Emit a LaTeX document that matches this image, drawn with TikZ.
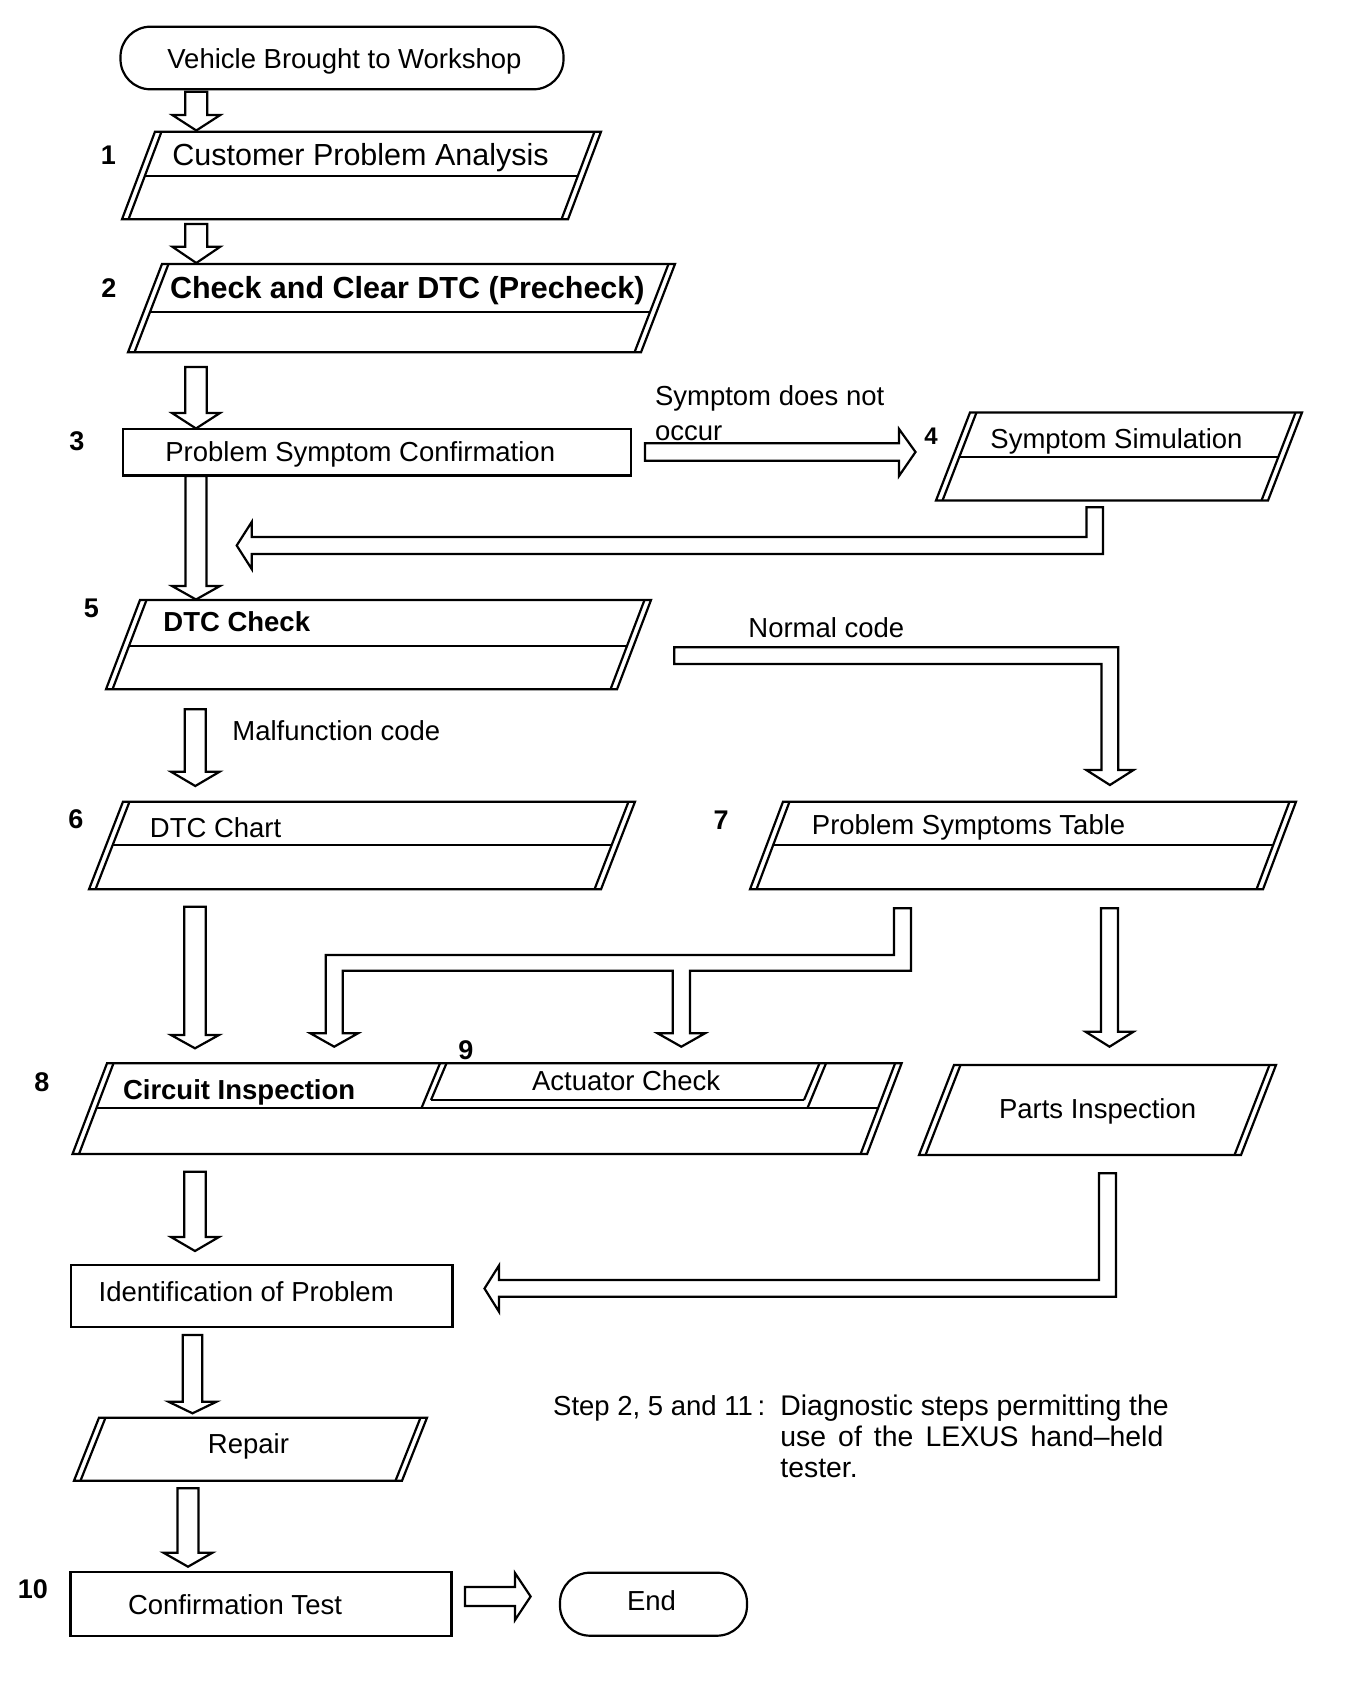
\documentclass[tikz,border=0pt]{standalone}
\usepackage{fontspec}
\setmainfont{Liberation Sans}
\newcommand{\varw}[6]{\draw[blk] ({#1-#5},#2) -- ({#1-#5},#3) -- ({#1-#6},#3) -- (#1,#4) -- ({#1+#6},#3) -- ({#1+#5},#3) -- ({#1+#5},#2) -- cycle;}
\newcommand{\pgr}[5]{%
 \draw[box] (#1,#3) -- (#2,#3) -- ({#2-#5},#4) -- ({#1-#5},#4) -- cycle;
 \draw[box] ({#1+6.5},#3) -- ({#1-#5+6.5},#4);
 \draw[box] ({#2-6.5},#3) -- ({#2-#5-6.5},#4);}
\newcommand{\pmid}[6]{%
 \draw[box] ({#1+6.5-#5*(#6-#3)/(#4-#3)},#6) -- ({#2-6.5-#5*(#6-#3)/(#4-#3)},#6);}
\begin{document}
\begin{tikzpicture}[x=0.5pt,y=-0.5pt,line join=miter,
  box/.style={line width=1.1pt},
  blk/.style={line width=1.1pt},
  rbox/.style={draw,line width=1.2pt,inner sep=0pt},
  txt/.style={inner sep=0pt,anchor=base west,font=\fontsize{13.75}{16.5}\selectfont},
  btxt/.style={inner sep=0pt,anchor=base west,font=\fontsize{13.75}{16.5}\selectfont\bfseries},
  big/.style={inner sep=0pt,anchor=base west,font=\fontsize{15.25}{18}\selectfont},
  bbig/.style={inner sep=0pt,anchor=base west,font=\fontsize{15.25}{18}\selectfont\bfseries},
  num/.style={inner sep=0pt,font=\fontsize{13.5}{15}\selectfont\bfseries},
  note/.style={inner sep=0pt,anchor=base west,font=\fontsize{14.2}{17}\selectfont}]
\useasboundingbox (0,0) rectangle (1344,1686);

% start terminator
\node[rbox,line width=1.1pt,rounded corners=15pt,minimum width=221.5pt,minimum height=31.3pt] (start) at (342,58) {};
\node[txt] (tstart) at (167,68.3) {Vehicle Brought to Workshop};

% box 1
\pgr{155}{601}{131.7}{219.3}{33}
\pmid{155}{601}{131.7}{219.3}{33}{175.7}
\coordinate (b1) at (361,175.7);
\node[big] (t1) at (172,165.7) {Customer Problem Analysis};
\node[num] (l1) at (108.5,155) {1};

% box 2
\pgr{162}{675}{264}{352.3}{34}
\pmid{162}{675}{264}{352.3}{34}{311.7}
\coordinate (b2) at (401,308);
\node[bbig] (t2) at (169.6,298.3) {Check and Clear DTC (Precheck)};
\node[num] (l2) at (109,288) {2};

% box 3
\node[rbox,minimum width=254pt,minimum height=23.25pt] (b3) at (377,452.25) {};
\node[txt] (t3) at (165,461.7) {Problem Symptom Confirmation};
\node[num] (l3) at (77,441) {3};

% box 4
\pgr{970}{1302}{412.5}{500.5}{34}
\pmid{970}{1302}{412.5}{500.5}{34}{457}
\coordinate (b4) at (1119,456);
\node[txt] (t4) at (990,448.3) {Symptom Simulation};
\node[num,font=\fontsize{12}{14}\selectfont\bfseries] (l4) at (931,436.5) {4};
\node[txt] (c4a) at (654.6,405) {Symptom does not};
\node[txt] (c4b) at (654.6,440) {occur};

% box 5
\pgr{140}{651}{600}{689.3}{34}
\pmid{140}{651}{600}{689.3}{34}{645.7}
\coordinate (b5) at (378,645);
\node[btxt] (t5) at (163,631.7) {DTC Check};
\node[num] (l5) at (91.5,608) {5};
\node[txt] (c6) at (232,740.7) {Malfunction code};
\node[txt] (c7) at (748,637.3) {Normal code};

% box 6
\pgr{123}{635}{801.7}{889.3}{34}
\pmid{123}{635}{801.7}{889.3}{34}{845}
\coordinate (b6) at (362,845);
\node[txt] (t6) at (149.5,837.3) {DTC Chart};
\node[num] (l6) at (76,818.7) {6};

% box 7
\pgr{783}{1296}{801.7}{889.3}{33}
\pmid{783}{1296}{801.7}{889.3}{33}{845}
\coordinate (b7) at (1023,845);
\node[txt] (t7) at (811.5,834) {Problem Symptoms Table};
\node[num] (l7) at (721,820) {7};

% box 8 with box 9
\pgr{107}{901.6}{1063.3}{1154}{34.5}
\pmid{107}{901.6}{1063.3}{1154}{34.5}{1108}
\coordinate (b8) at (487,1108);
\draw[box] (440,1063.3) -- (421.5,1108);
\draw[box] (446.5,1063.3) -- (431,1100);
\draw[box] (826,1063.3) -- (807.5,1108);
\draw[box] (819.5,1063.3) -- (804,1100);
\draw[box] (431,1100) -- (804,1100);
\coordinate (b9) at (625,1081);
\node[btxt] (t8) at (122.6,1099) {Circuit Inspection};
\node[num] (l8) at (42,1082.5) {8};
\node[txt] (t9) at (531.7,1090.7) {Actuator Check};
\node[num] (l9) at (466,1050) {9};

% parts inspection
\pgr{954}{1276}{1065}{1155}{35}
\coordinate (bp) at (1097,1110);
\node[txt] (tp) at (998.6,1118.3) {Parts Inspection};

% identification
\node[rbox,minimum width=190.65pt,minimum height=30.85pt] (bid) at (261.65,1295.85) {};
\node[txt] (tid) at (98.3,1301) {Identification of Problem};

% repair
\pgr{99}{427}{1417.7}{1480.7}{25}
\coordinate (br) at (250,1449);
\node[txt,anchor=base] (tr) at (248.5,1453.3) {Repair};

% confirmation test
\node[rbox,minimum width=190.55pt,minimum height=31.85pt] (bc) at (260.95,1603.85) {};
\node[txt] (tc) at (127.6,1614) {Confirmation Test};
\node[num] (l10) at (33,1589) {10};

% end
\node[rbox,line width=1.1pt,rounded corners=15pt,minimum width=93.5pt,minimum height=31.5pt] (end) at (653.5,1604.2) {};
\node[txt,anchor=base] (tend) at (651.5,1610.7) {End};

% note
\node[txt] (n1) at (552.8,1415) {Step 2, 5 and 11\,:};
\node[note] (n2) at (780,1415) {Diagnostic steps permitting the};
\node[note] (n3) at (780,1446) {\makebox[191.5pt][s]{use of the LEXUS hand--held}};
\node[note] (n4) at (780,1477.3) {tester.};

% vertical block arrows (left column)
\varw{196.3}{91.7}{115}{130.5}{11}{24}
\varw{196.3}{224}{246.7}{263}{11}{24}
\varw{196}{367}{413}{428.5}{10.8}{24}
\varw{196}{476}{586}{599.5}{10.5}{24}
\varw{195.3}{709.3}{771.7}{786}{10.5}{24.3}
\varw{195}{906.7}{1035}{1048.3}{10.8}{24}
\varw{195}{1171.7}{1237}{1251}{10.8}{24}
\varw{192.5}{1335}{1401.7}{1413.3}{9.8}{24}
\varw{188}{1488.3}{1552.7}{1566.7}{10.5}{24.5}
% box7 -> parts
\varw{1109.5}{908.3}{1031.7}{1046.7}{8.5}{24}

% box3 -> box4
\draw[blk] (645,443.3) -- (899,443.3) -- (899,429) -- (915.5,452) -- (899,476) -- (899,460.7) -- (645,460.7) -- cycle;
% box4 -> back to main line
\draw[blk] (1086.4,507.3) -- (1103,507.3) -- (1103,554) -- (251.7,554) -- (251.7,569) -- (236.7,545.5) -- (251.7,522) -- (251.7,537) -- (1086.4,537) -- cycle;
% normal code
\draw[blk] (674.3,647.3) -- (1118.3,647.3) -- (1118.3,770) -- (1133.5,770) -- (1109.9,785) -- (1086.3,770) -- (1101.5,770) -- (1101.5,664) -- (674.3,664) -- cycle;
% box7 -> circuit & actuator
\draw[blk] (894,908.3) -- (911,908.3) -- (911,970.7) -- (690,970.7) -- (690,1033.3) -- (705,1033.3) -- (681.3,1046.7) -- (657.6,1033.3) -- (672.7,1033.3) -- (672.7,970.7) -- (342.8,970.7) -- (342.8,1033.3) -- (358,1033.3) -- (334.2,1046.7) -- (310.4,1033.3) -- (325.7,1033.3) -- (325.7,955) -- (894,955) -- cycle;
% parts -> identification
\draw[blk] (1099,1173.3) -- (1116,1173.3) -- (1116,1296.7) -- (499,1296.7) -- (499,1311.7) -- (484.5,1288.5) -- (499,1265.5) -- (499,1280) -- (1099,1280) -- cycle;
% confirmation -> end
\draw[blk] (465,1587) -- (515,1587) -- (515,1573) -- (530.6,1596.5) -- (515,1620) -- (515,1606) -- (465,1606) -- cycle;
\end{tikzpicture}
\end{document}
